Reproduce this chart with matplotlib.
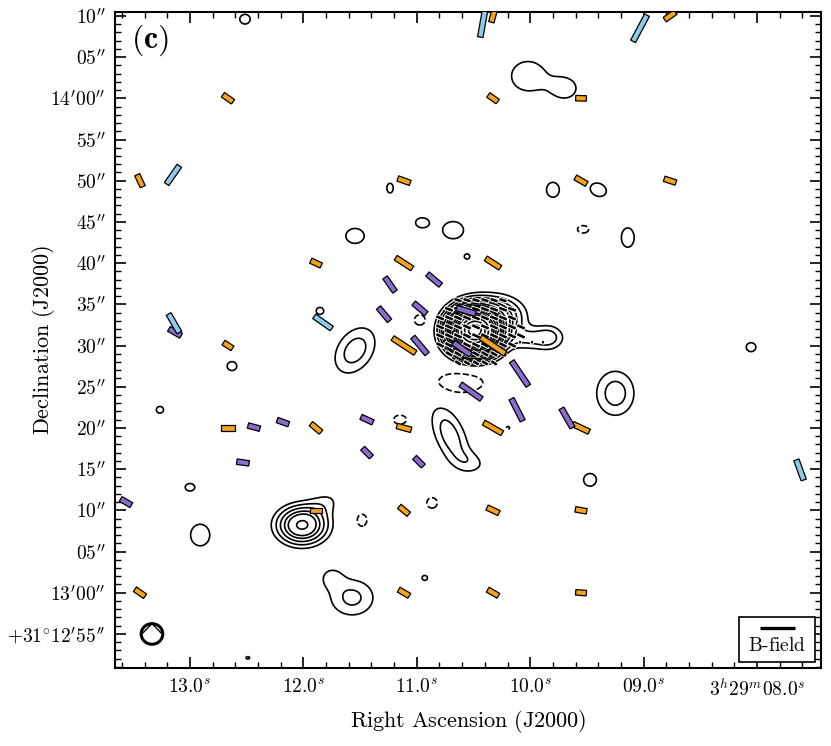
import numpy as np
import matplotlib
matplotlib.use("Agg")
import matplotlib.pyplot as plt
from matplotlib.patches import Ellipse, Rectangle
from matplotlib.ticker import FixedLocator, FixedFormatter, MultipleLocator

plt.rcParams['mathtext.fontset'] = 'cm'
plt.rcParams['font.family'] = 'serif'
plt.rcParams['font.serif'] = ['cmr10', 'DejaVu Serif']

# ---------------- data ----------------
# Emission components: RA (seconds of 3h29m), Dec (arcsec offset from +31d13m00s),
# peak (in rms units), sigma_x, sigma_y (arcsec), rotation (deg)
src_ra   = [12.515, 10.02, 9.69, 11.236, 9.80, 9.40, 10.954, 10.68, 11.545, 9.14, 9.534,
            10.557, 11.854, 11.545, 12.63, 8.053, 10.49, 10.30, 10.00, 9.83, 10.972, 10.62,
            9.25, 13.265, 11.148, 10.707, 10.53, 10.196, 9.473, 13.0, 10.866, 12.012, 11.836,
            11.483, 12.91, 11.57, 11.75, 10.93, 12.49]
src_dec  = [69.6, 62.7, 61.2, 49.1, 48.9, 48.9, 44.9, 44.0, 43.3, 43.1, 44.1,
            40.8, 34.2, 29.4, 27.5, 29.8, 31.8, 33.5, 30.9, 31.0, 33.1, 25.5,
            24.2, 22.2, 21.0, 19.1, 15.9, 20.0, 13.7, 12.8, 10.9, 8.2, 10.6,
            8.8, 7.0, -0.6, 1.8, 1.8, -7.9]
src_peak = [4.5, 4.6, 4.2, 4.5, 4.5, 4.5, 4.5, 4.5, 4.5, 4.5, -4.5,
            4.0, 4.3, 8.0, 4.5, 4.5, 330, 20, 7, 5, -4.5, -4.5,
            8, 4.5, -4.5, 8, 3.5, -3.6, 4.5, 4.5, -4.5, 32, 4,
            -4.5, 4.5, 7, 4, 4, 3.6]
src_sx   = [0.65, 2.0, 1.4, 0.4, 0.8, 1.05, 0.8, 1.3, 1.15, 0.8, 0.7,
            0.4, 0.5, 2.1, 0.6, 0.6, 1.5, 1.8, 2.0, 1.0, 0.7, 2.9,
            1.5, 0.45, 0.8, 2.6, 1.4, 0.3, 0.8, 0.6, 0.65, 1.6, 1.6,
            0.6, 1.2, 1.8, 1.0, 0.4, 0.35]
src_sy   = [0.65, 1.9, 1.3, 0.65, 1.0, 0.85, 0.65, 1.15, 1.0, 1.3, 0.5,
            0.4, 0.5, 1.4, 0.6, 0.6, 1.45, 1.4, 0.9, 1.0, 0.7, 1.35,
            1.9, 0.45, 0.6, 1.15, 0.9, 0.3, 0.85, 0.5, 0.7, 1.3, 1.0,
            0.8, 1.45, 1.6, 1.0, 0.4, 0.25]
src_rot  = [0, 0, 0, 0, 0, -30, 0, 0, 0, 0, 0,
            0, 0, 60, 0, 0, 0, 0, 0, 0, 0, 0,
            0, 0, 0, -68, -20, 0, 0, 0, 0, 0, 30,
            0, 0, 0, 0, 0, 0]

levels_pos = [3, 6, 10, 15, 20, 30, 40, 50, 60, 80, 100, 125, 150, 200, 250, 300]
levels_neg = [-3]

# B-field segments: RA (s), Dec (arcsec), position angle (deg E of N), length (arcsec)
orange_ra  = [10.328, 8.767, 12.665, 10.328, 9.552, 13.441, 11.113, 9.552, 8.767, 11.889,
              11.113, 10.328, 12.665, 11.113, 10.328, 12.665, 11.889, 11.113, 10.328, 9.552,
              11.889, 11.113, 10.328, 9.552, 13.441, 11.113, 10.328, 9.552]
orange_dec = [70, 70, 60, 60, 60, 50, 50, 50, 50, 40,
              40, 40, 30, 30, 30, 20, 20, 20, 20, 20,
              10, 10, 10, 10, 0, 0, 0, 0]
orange_pa  = [-15, -55, 55, 55, 88, 25, 70, 60, 72, 65,
              57, 57, 57, 57, 56, 90, 50, 75, 60, 65,
              90, 50, 65, 80, 55, 60, 60, 85]
orange_len = [1.6, 1.6, 1.5, 1.4, 1.3, 1.6, 1.6, 1.6, 1.5, 1.4,
              2.4, 2.1, 1.3, 3.3, 3.6, 1.6, 1.6, 1.8, 2.6, 2.2,
              1.5, 1.5, 1.6, 1.4, 1.5, 1.5, 1.5, 1.3]

blue_ra  = [10.42, 9.032, 13.15, 13.141, 11.827, 7.621]
blue_dec = [69.0, 68.5, 50.7, 32.7, 32.8, 14.9]
blue_pa  = [-10, -28, -35, 30, 55, 20]
blue_len = [3.2, 3.6, 2.7, 2.6, 2.6, 2.6]

purple_ra  = [10.848, 11.236, 10.972, 11.289, 10.566, 13.132, 10.972, 10.601, 10.09, 10.522,
              10.116, 9.676, 12.436, 12.18, 11.439, 11.439, 10.981, 12.533, 13.564]
purple_dec = [38.0, 37.4, 34.5, 33.8, 34.2, 31.6, 30.0, 29.6, 26.6, 24.4,
              22.2, 21.2, 20.1, 20.7, 21.0, 17.0, 15.9, 15.8, 11.0]
purple_pa  = [50, 35, 50, 40, 73, 60, 40, 55, 34, 55,
              27, 30, 75, 70, 65, 45, 45, 82, 60]
purple_len = [2.1, 2.1, 2.0, 2.1, 2.4, 1.7, 2.7, 2.6, 3.6, 3.1,
              3.0, 2.7, 1.5, 1.5, 1.6, 1.5, 1.5, 1.5, 1.5]

# high-resolution segments inside the central core (black with white outline)
core_rows_dec = [35.5, 34.4, 33.35, 32.26, 31.17, 30.07, 28.98, 27.89, 30.4]
core_rows_ra = [
    [10.637, 10.557, 10.478, 10.399, 10.319, 10.240],
    [10.716, 10.637, 10.557, 10.478, 10.399, 10.319, 10.240, 10.160],
    [10.795, 10.716, 10.637, 10.557, 10.478, 10.399, 10.319, 10.240, 10.160],
    [10.795, 10.716, 10.637, 10.557, 10.478, 10.399, 10.319, 10.240, 10.160, 10.081],
    [10.795, 10.716, 10.637, 10.557, 10.478, 10.399, 10.319, 10.240, 10.160, 10.081],
    [10.795, 10.716, 10.637, 10.557, 10.478, 10.399, 10.319, 10.240, 10.160],
    [10.716, 10.637, 10.557, 10.478, 10.399, 10.319, 10.240],
    [10.637, 10.557, 10.478, 10.399, 10.319],
    [10.09, 9.984, 9.887],
]
core_rows_pa = [72, 70, 68, 66, 65, 63, 60, 58, 80]
core_rows_len = [1.0, 1.1, 1.1, 1.1, 1.1, 1.1, 1.0, 0.9, 0.35]

x_ticks = [13.0, 12.0, 11.0, 10.0, 9.0, 8.0]
x_labels = [r"$13.0^{s}$", r"$12.0^{s}$", r"$11.0^{s}$", r"$10.0^{s}$", r"$09.0^{s}$",
            r"$3^{h}29^{m}08.0^{s}$"]
y_ticks = [-5, 0, 5, 10, 15, 20, 25, 30, 35, 40, 45, 50, 55, 60, 65, 70]
y_labels = [r"$+31^{\circ}12^{\prime}55^{\prime\prime}$", r"$13^{\prime}00^{\prime\prime}$",
            r"$05^{\prime\prime}$", r"$10^{\prime\prime}$", r"$15^{\prime\prime}$",
            r"$20^{\prime\prime}$", r"$25^{\prime\prime}$", r"$30^{\prime\prime}$",
            r"$35^{\prime\prime}$", r"$40^{\prime\prime}$", r"$45^{\prime\prime}$",
            r"$50^{\prime\prime}$", r"$55^{\prime\prime}$", r"$14^{\prime}00^{\prime\prime}$",
            r"$05^{\prime\prime}$", r"$10^{\prime\prime}$"]

beam_ra, beam_dec, beam_w, beam_h = 13.335, -5.0, 0.19, 2.5

# ---------------- figure ----------------
fig = plt.figure(figsize=(8.31, 7.46), dpi=100)
ax = fig.add_axes([0.1384, 0.1046, 0.8496, 0.8794])

AS_PER_S = 15 * np.cos(np.deg2rad(31.22))
ra_grid = np.linspace(7.3, 13.8, 800)
dec_grid = np.linspace(-10, 72, 800)
RA, DEC = np.meshgrid(ra_grid, dec_grid)
field = np.zeros_like(RA)
for r0, d0, a, sx, sy, rot in zip(src_ra, src_dec, src_peak, src_sx, src_sy, src_rot):
    dx = (r0 - RA) * AS_PER_S
    dy = DEC - d0
    t = np.deg2rad(rot)
    u = dx * np.cos(t) + dy * np.sin(t)
    v = -dx * np.sin(t) + dy * np.cos(t)
    field += a * np.exp(-0.5 * ((u / sx) ** 2 + (v / sy) ** 2))

ax.contour(RA, DEC, field, levels=levels_pos, colors='black', linewidths=1.2,
           linestyles='solid', zorder=2)
ax.contour(RA, DEC, field, levels=levels_neg, colors='black', linewidths=1.2,
           linestyles='dashed', zorder=2)

SCALE = 100 / 8.24  # arcsec per inch on the page


def draw_vectors(ras, decs, pas, lens, color, edge='black', width=5.5, lw=0.9, z=4):
    pa = np.deg2rad(np.array(pas, dtype=float))
    L = np.array(lens, dtype=float)
    U = -L * np.sin(pa)
    V = L * np.cos(pa)
    ax.quiver(ras, decs, U, V, angles='uv', scale_units='inches', scale=SCALE,
              units='dots', width=width, headwidth=0, headlength=0, headaxislength=0,
              minlength=0, pivot='middle', color=color, edgecolor=edge,
              linewidth=lw, zorder=z)


core_ra, core_dec, core_pa, core_len = [], [], [], []
for d, ras, p, l in zip(core_rows_dec, core_rows_ra, core_rows_pa, core_rows_len):
    for r in ras:
        core_ra.append(r)
        core_dec.append(d)
        core_pa.append(p)
        core_len.append(l)
draw_vectors(core_ra, core_dec, core_pa, core_len, 'black', edge='white',
             width=3.6, lw=0.7, z=3)

draw_vectors(orange_ra, orange_dec, orange_pa, orange_len, '#F5A31A')
draw_vectors(purple_ra, purple_dec, purple_pa, purple_len, '#8A6CD0')
draw_vectors(blue_ra, blue_dec, blue_pa, blue_len, '#8CCBEA')

ax.add_patch(Ellipse((beam_ra, beam_dec), beam_w, beam_h, fill=False, lw=2.2,
                     edgecolor='black', zorder=3))
ax.plot([beam_ra + 0.42 * beam_w, beam_ra, beam_ra - 0.42 * beam_w],
        [beam_dec + 0.05 * beam_h, beam_dec + 0.5 * beam_h, beam_dec + 0.05 * beam_h],
        color='black', lw=1.0, zorder=3)

ax.set_xlim(13.661, 7.436)
ax.set_ylim(-9.13, 70.48)

ax.xaxis.set_major_locator(FixedLocator(x_ticks))
ax.xaxis.set_major_formatter(FixedFormatter(x_labels))
ax.xaxis.set_minor_locator(MultipleLocator(0.2))
ax.yaxis.set_major_locator(FixedLocator(y_ticks))
ax.yaxis.set_major_formatter(FixedFormatter(y_labels))
ax.yaxis.set_minor_locator(MultipleLocator(1))
ax.tick_params(which='both', direction='in', top=True, right=True)
ax.tick_params(which='major', length=8, width=1.2, labelsize=14, pad=7)
ax.tick_params(which='minor', length=4, width=1.0)
for sp in ax.spines.values():
    sp.set_linewidth(1.5)

ax.set_xlabel(r"$\mathrm{Right\ Ascension\ (J2000)}$", fontsize=16, labelpad=6)
ax.set_ylabel(r"$\mathrm{Declination\ (J2000)}$", fontsize=16)
ax.yaxis.set_label_coords(-0.082, 0.5)

ax.text(0.022, 0.957, r"$\mathbf{(c)}$", transform=ax.transAxes, fontsize=23,
        ha='left', va='center')

# legend box
ax.add_patch(Rectangle((0.884, 0.009), 0.1075, 0.0687, transform=ax.transAxes,
                       fill=True, facecolor='white', edgecolor='black', lw=1.2, zorder=6))
ax.plot([0.9136, 0.963], [0.061, 0.061], transform=ax.transAxes, color='black',
        lw=2.4, zorder=7, solid_capstyle='butt')
ax.text(0.938, 0.034, r"$\mathrm{B\text{-}field}$", transform=ax.transAxes, fontsize=14,
        ha='center', va='center', zorder=7)

fig.savefig("out.png", dpi=100)
